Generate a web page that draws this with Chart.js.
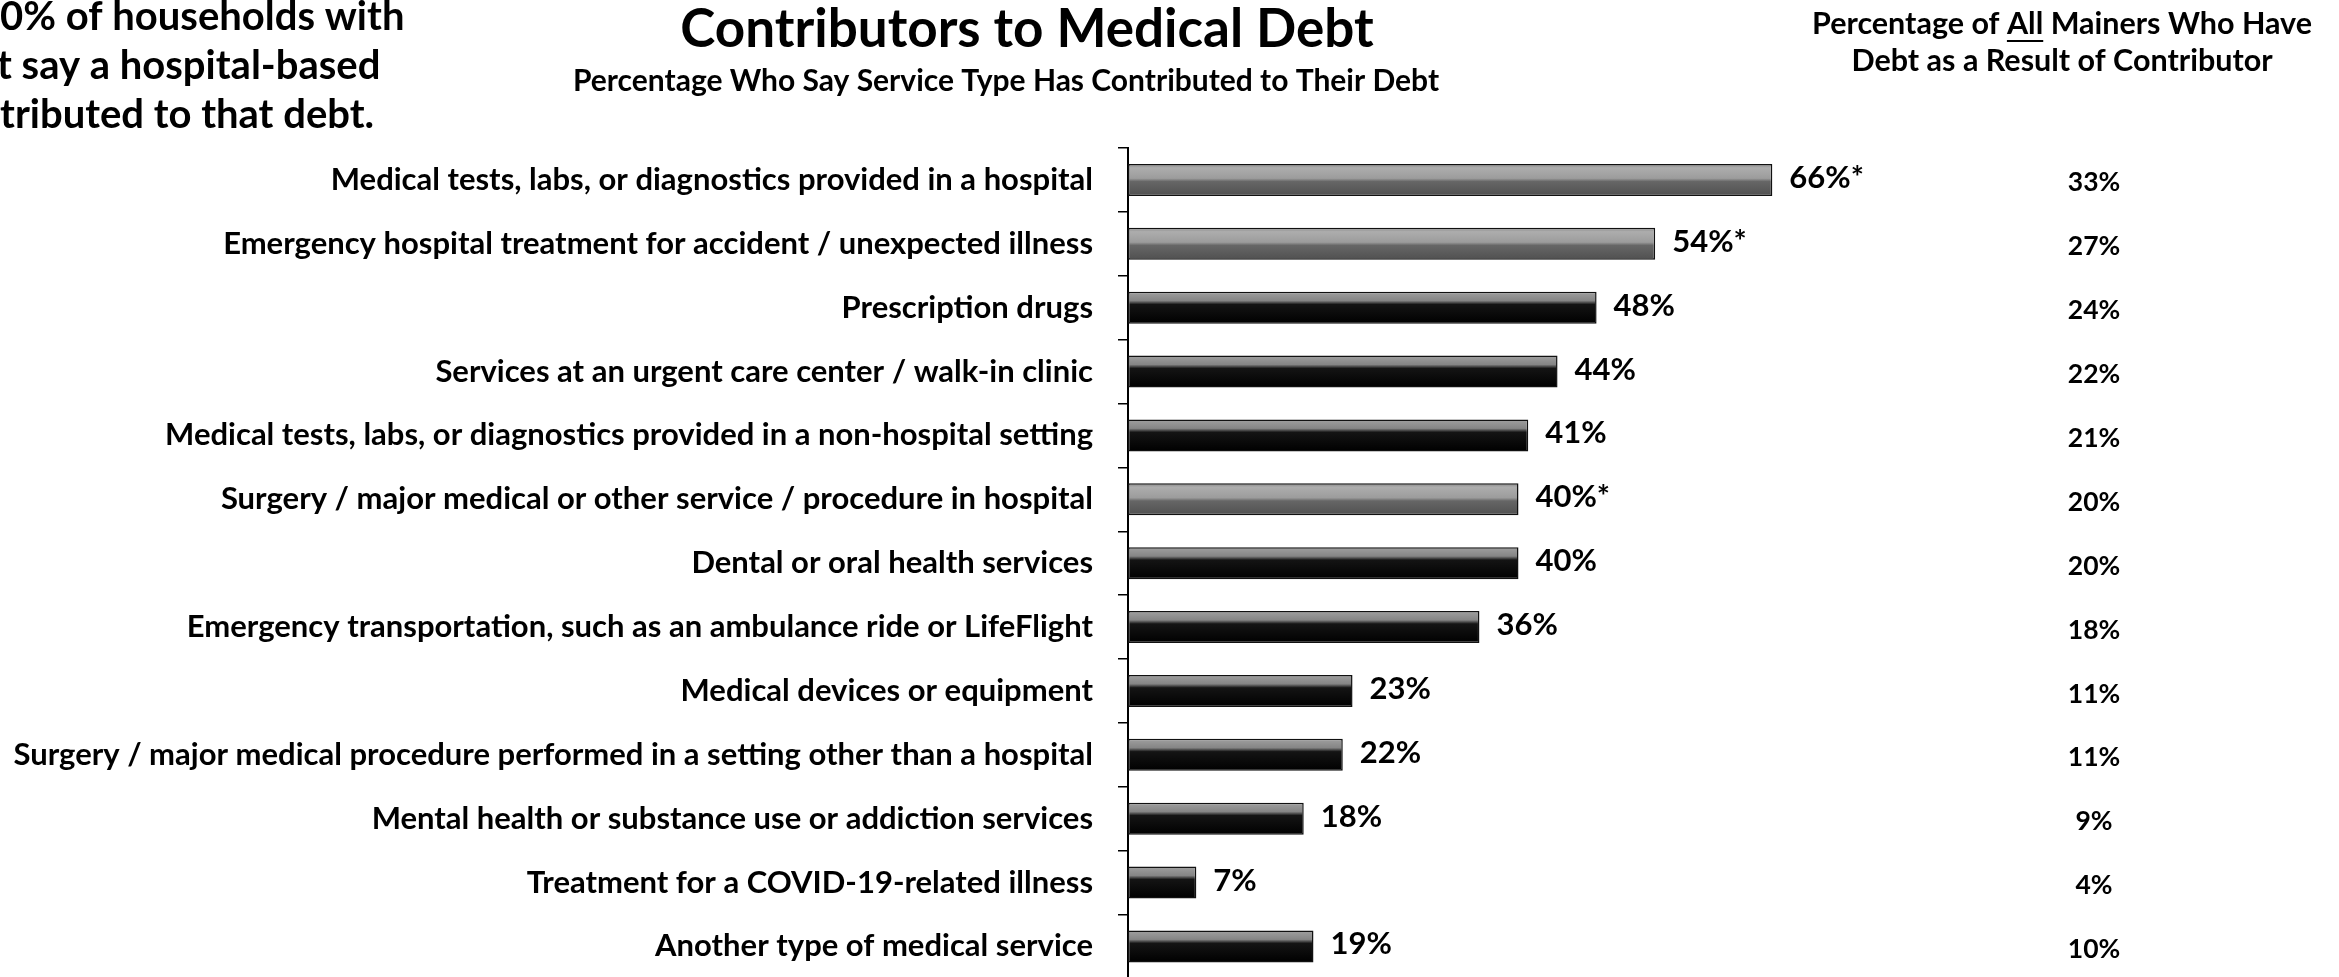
<!DOCTYPE html>
<html>
<head>
<meta charset="utf-8">
<title>Contributors to Medical Debt</title>
<script src="https://cdn.jsdelivr.net/npm/chart.js@4.4.1/dist/chart.umd.min.js"></script>
<style>
  html, body { margin: 0; padding: 0; background: #fff; overflow: hidden; }
  canvas { display: block; }
</style>
</head>
<body>
<canvas id="debtChart" width="2339" height="1022"></canvas>
<script>
// Categories, top to bottom
const contributors = [
  'Medical tests, labs, or diagnostics provided in a hospital',
  'Emergency hospital treatment for accident / unexpected illness',
  'Prescription drugs',
  'Services at an urgent care center / walk-in clinic',
  'Medical tests, labs, or diagnostics provided in a non-hospital setting',
  'Surgery / major medical or other service / procedure in hospital',
  'Dental or oral health services',
  'Emergency transportation, such as an ambulance ride or LifeFlight',
  'Medical devices or equipment',
  'Surgery / major medical procedure performed in a setting other than a hospital',
  'Mental health or substance use or addiction services',
  'Treatment for a COVID-19-related illness',
  'Another type of medical service'
];
// % of households with medical debt who say this contributed
const pctWithDebt = [66, 54, 48, 44, 41, 40, 40, 36, 23, 22, 18, 7, 19];
// hospital-based services (marked with *)
const hospitalBased = [true, true, false, false, false, true, false, false, false, false, false, false, false];
// % of ALL Mainers with debt from this contributor
const pctAllMainers = [33, 27, 24, 22, 21, 20, 20, 18, 11, 11, 9, 4, 10];

const FONT = 'Lato';

// grey bevel look for hospital bars, black with grey top strip for the rest
function barFill(context) {
  const chart = context.chart;
  if (!chart.chartArea || !chart.scales.y) return '#000';
  const i = context.dataIndex;
  const y = chart.scales.y.getPixelForValue(i);
  const g = chart.ctx.createLinearGradient(0, y - 16, 0, y + 16);
  if (hospitalBased[i]) {
    g.addColorStop(0, '#858585');
    g.addColorStop(0.12, '#adadad');
    g.addColorStop(0.45, '#9c9c9c');
    g.addColorStop(0.55, '#666666');
    g.addColorStop(1, '#505050');
  } else {
    g.addColorStop(0, '#a0a0a0');
    g.addColorStop(0.28, '#858585');
    g.addColorStop(0.4, '#141414');
    g.addColorStop(1, '#000000');
  }
  return g;
}

const textPlugin = {
  id: 'textPlugin',
  afterDatasetsDraw(chart) {
    const c = chart.ctx;
    const meta = chart.getDatasetMeta(0);
    c.save();
    c.fillStyle = '#000';
    c.textBaseline = 'middle';
    meta.data.forEach((bar, i) => {
      c.font = `bold 31px ${FONT}`;
      c.textAlign = 'left';
      c.fillText(pctWithDebt[i] + '%' + (hospitalBased[i] ? '*' : ''), bar.x + 17, bar.y - 2);
      c.font = `bold 26.5px ${FONT}`;
      c.textAlign = 'center';
      c.fillText(pctAllMainers[i] + '%', 2094, bar.y + 3);
    });
    c.restore();
  },
  afterDraw(chart) {
    const c = chart.ctx;
    c.save();
    c.fillStyle = '#000';
    c.strokeStyle = '#000';

    // title + subtitle
    c.textAlign = 'center';
    c.textBaseline = 'middle';
    c.font = `bold 53px ${FONT}`;
    c.fillText('Contributors to Medical Debt', 1027, 30);
    c.font = `bold 30px ${FONT}`;
    c.fillText('Percentage Who Say Service Type Has Contributed to Their Debt', 1006, 81);

    // right column header, "All" underlined
    const h1 = 'Percentage of All Mainers Who Have';
    c.font = `bold 30.5px ${FONT}`;
    c.fillText(h1, 2062, 24);
    c.fillText('Debt as a Result of Contributor', 2062, 61);
    const x0 = 2062 - c.measureText(h1).width / 2 + c.measureText('Percentage of ').width;
    c.lineWidth = 2;
    c.beginPath();
    c.moveTo(x0, 41);
    c.lineTo(x0 + c.measureText('All').width, 41);
    c.stroke();

    // cut-off call-out text at top left
    c.textAlign = 'left';
    c.textBaseline = 'alphabetic';
    c.font = `bold 40px ${FONT}`;
    c.fillText('0% of households with', 0, 30);
    c.fillText('t say a hospital-based', -3, 79);
    c.fillText('tributed to that debt.', 0, 128);
    c.restore();
  }
};

const ctx = document.getElementById('debtChart').getContext('2d');
new Chart(ctx, {
  type: 'bar',
  data: {
    labels: contributors,
    datasets: [{
      data: pctWithDebt,
      backgroundColor: barFill,
      borderColor: '#111',
      borderWidth: 1.5,
      borderSkipped: false,
      barPercentage: 0.5,
      categoryPercentage: 1
    }]
  },
  options: {
    indexAxis: 'y',
    responsive: false,
    animation: false,
    layout: { padding: { top: 148, bottom: 43, left: 0, right: 430 } },
    scales: {
      x: { display: false, min: 0, max: 80 },
      y: {
        afterFit: (scale) => { scale.width = 1128; },
        grid: { drawOnChartArea: false, drawTicks: true, tickLength: 10, color: '#000', lineWidth: 1.5 },
        border: { display: true, color: '#000', width: 2 },
        ticks: {
          color: '#000',
          padding: 25,
          autoSkip: false,
          font: { family: FONT, weight: 'bold', size: 31 }
        }
      }
    },
    plugins: {
      legend: { display: false },
      tooltip: { enabled: false }
    }
  },
  plugins: [textPlugin]
});
</script>
</body>
</html>
